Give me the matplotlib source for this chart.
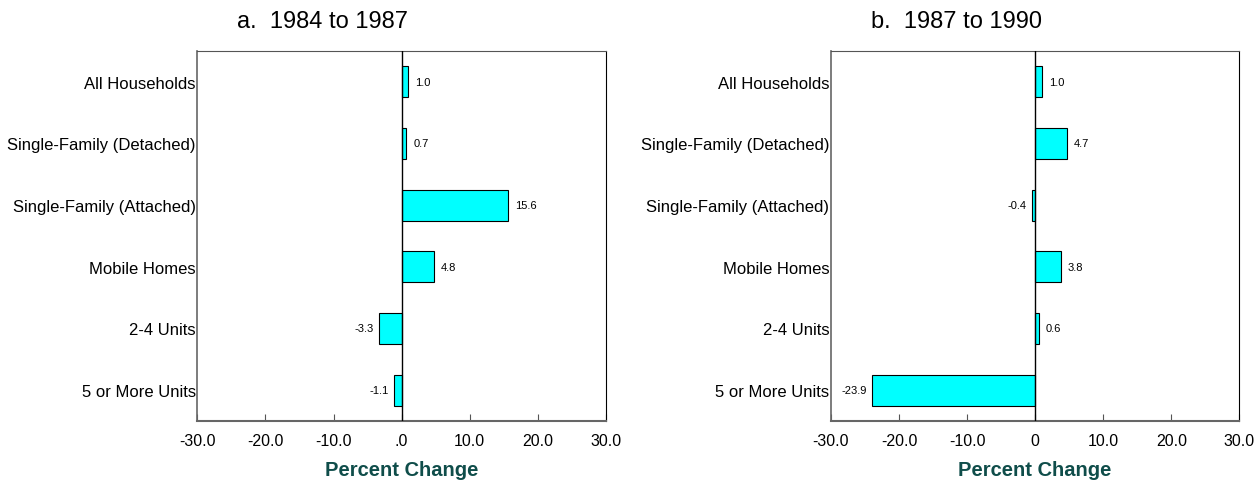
import matplotlib.pyplot as plt

plt.rcParams['font.family'] = ['Liberation Sans', 'DejaVu Sans']

categories = ["All Households", "Single-Family (Detached)", "Single-Family (Attached)",
              "Mobile Homes", "2-4 Units", "5 or More Units"]
change_84_87 = [1.0, 0.7, 15.6, 4.8, -3.3, -1.1]
change_87_90 = [1.0, 4.7, -0.4, 3.8, 0.6, -23.9]
titles = ["a.  1984 to 1987", "b.  1987 to 1990"]
tick_vals = [-30, -20, -10, 0, 10, 20, 30]
tick_labels_a = ["-30.0", "-20.0", "-10.0", ".0", "10.0", "20.0", "30.0"]
tick_labels_b = ["-30.0", "-20.0", "-10.0", "0", "10.0", "20.0", "30.0"]

fig = plt.figure(figsize=(12.57, 4.85), dpi=100)
ax_a = fig.add_axes([0.157, 0.130, 0.325, 0.763])
ax_b = fig.add_axes([0.661, 0.130, 0.325, 0.763])

panels = [(ax_a, change_84_87, tick_labels_a, titles[0]),
          (ax_b, change_87_90, tick_labels_b, titles[1])]

for ax, vals, tlabels, title in panels:
    ypos = list(range(len(categories)))
    ax.barh(ypos, vals, height=0.5, color="#00ffff", edgecolor="black", linewidth=0.8, zorder=3)
    ax.axvline(0, color="black", linewidth=1, zorder=4)
    for y, v in zip(ypos, vals):
        if v >= 0:
            ax.text(v + 1.0, y, f"{v:.1f}", va="center", ha="left", fontsize=8)
        else:
            ax.text(v - 0.8, y, f"{v:.1f}", va="center", ha="right", fontsize=8)
    ax.set_xlim(-30, 30)
    ax.set_ylim(5.5, -0.5)
    ax.set_yticks(ypos)
    ax.set_yticklabels(categories, fontsize=12)
    ax.tick_params(axis="y", length=0, pad=1)
    ax.set_xticks(tick_vals)
    ax.set_xticklabels(tlabels, fontsize=11.5)
    ax.tick_params(axis="x", direction="in", length=5, color="#555555", pad=9)
    ax.set_xlabel("Percent Change", fontsize=14.5, fontweight="bold", color="#0f4d4a", labelpad=8)
    # title sits left of the axes centre, over labels + plot
    ax.text(0.307, 1.0 + 30 / 370, title, transform=ax.transAxes,
            ha="center", va="center", fontsize=17)
    ax.spines["bottom"].set_color("#666666")
    ax.spines["bottom"].set_linewidth(1.5)
    ax.spines["left"].set_color("#666666")
    ax.spines["left"].set_linewidth(1.2)
    ax.spines["top"].set_color("#555555")
    ax.spines["right"].set_color("black")

plt.savefig("out.png", dpi=100)
